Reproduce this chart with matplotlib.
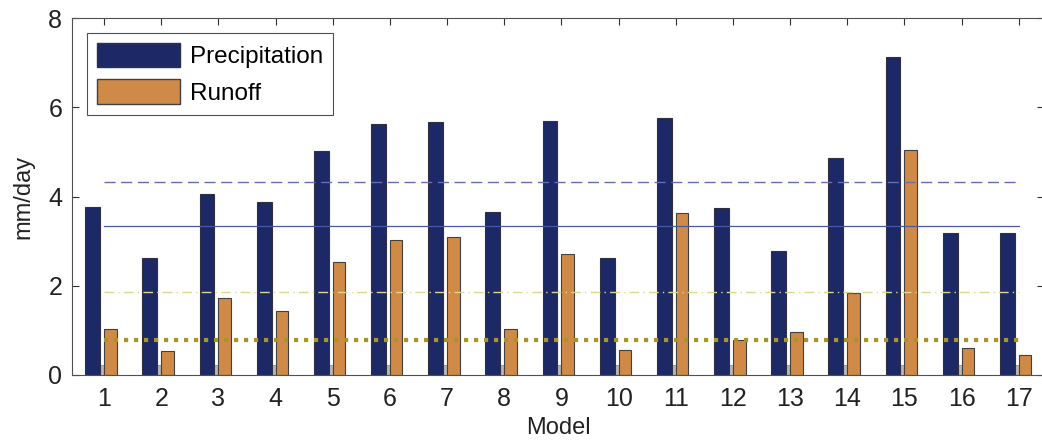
import numpy as np
import matplotlib.pyplot as plt
from matplotlib.patches import Patch

plt.rcParams['font.family'] = ['Liberation Sans', 'DejaVu Sans']

# datos
modelos = np.arange(1, 18)
precipitacion = [3.76, 2.62, 4.05, 3.87, 5.03, 5.62, 5.66, 3.66, 5.70,
                 2.63, 5.75, 3.74, 2.77, 4.86, 7.13, 3.18, 3.18]
escorrentia = [1.02, 0.54, 1.73, 1.43, 2.54, 3.02, 3.10, 1.03, 2.72,
               0.56, 3.62, 0.78, 0.96, 1.84, 5.04, 0.61, 0.44]
gris = [0.22] * 17
media_obs_p = 4.32
media_mod_p = 3.34
media_obs_r = 1.85
media_mod_r = 0.78

fig = plt.figure(figsize=(10.42, 4.42), dpi=100)
ax = fig.add_axes([72 / 1042, 1 - 375 / 442, (1044 - 72) / 1042, (375 - 18) / 442])

ax.bar(modelos - 0.03, gris, width=0.08, color='#b8b8b8', edgecolor='#909090',
       linewidth=0.6, zorder=1)
ax.bar(modelos - 0.2, precipitacion, width=0.26, color='#1c2966',
       edgecolor='#303040', linewidth=0.8, zorder=2)
ax.bar(modelos + 0.11, escorrentia, width=0.22, color='#d08a48',
       edgecolor='#404040', linewidth=0.8, zorder=2)

# lineas de media
ax.plot([1, 17], [media_obs_p] * 2, color='#6a6ab8', lw=1.0, ls=(0, (8, 4)), zorder=3)
ax.plot([1, 17], [media_mod_p] * 2, color='#4a58a8', lw=0.9, zorder=3)
ax.plot([1, 17], [media_obs_r] * 2, color='#d8d890', lw=1.0, ls=(0, (7, 3, 1, 3)), zorder=3)
ax.plot([1, 17], [media_mod_r] * 2, color='#a89428', lw=3.0, ls=(0, (1, 1.4)), zorder=3)

ax.set_xlim(0.44, 17.44)
ax.set_ylim(0, 8)
ax.set_xticks(modelos)
ax.set_yticks([0, 2, 4, 6, 8])
ax.tick_params(direction='in', length=5, width=0.8, top=True, right=True,
               labelsize=18, colors='#303030', labelcolor='#222222')
ax.tick_params(axis='x', pad=9)
ax.tick_params(axis='y', pad=7)
for s in ax.spines.values():
    s.set_color('#505050')
    s.set_linewidth(0.8)

ax.set_xlabel('Model', fontsize=17, color='#222222', labelpad=4)
ax.set_ylabel('mm/day', fontsize=17, color='#222222', labelpad=10)

handles = [Patch(facecolor='#1c2966', edgecolor='#303040', label='Precipitation'),
           Patch(facecolor='#d08a48', edgecolor='#404040', label='Runoff')]
leg = ax.legend(handles=handles, loc='upper left', bbox_to_anchor=(0.0154, 0.958),
                borderaxespad=0, fontsize=17.5, handlelength=3.4, handleheight=1.15,
                handletextpad=0.4, labelspacing=0.45, borderpad=0.42, fancybox=False,
                framealpha=1, edgecolor='#505050')
leg.get_frame().set_linewidth(0.8)

fig.savefig('out.png', dpi=100)
